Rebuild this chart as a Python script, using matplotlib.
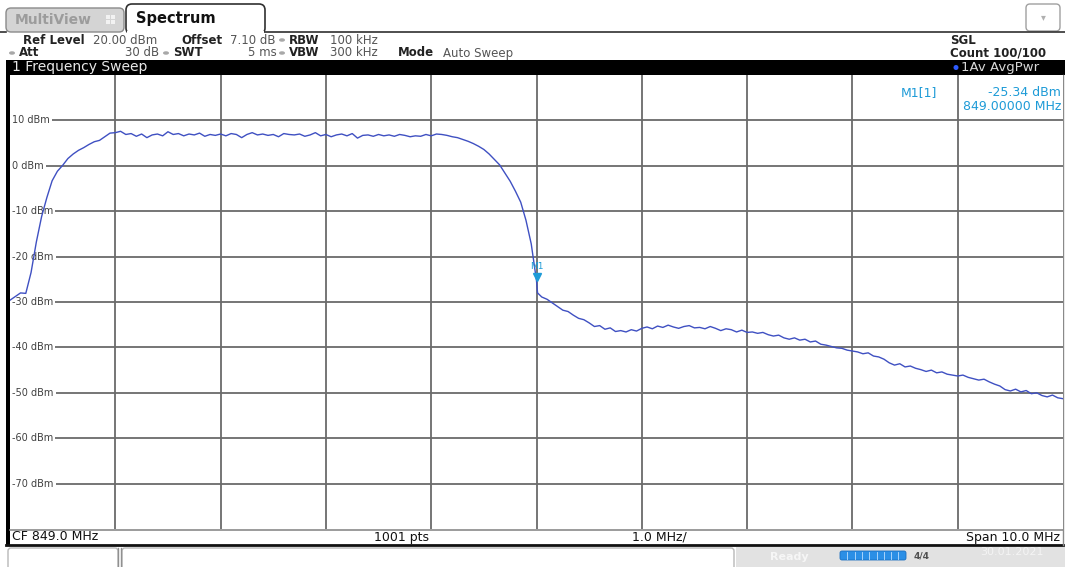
import matplotlib
matplotlib.use("Agg")
import matplotlib.pyplot as plt
import matplotlib.patches as patches
import numpy as np

plt.rcParams['font.family'] = ['DejaVu Sans']

# sweep data (dBm every 0.05 MHz, 844..854 MHz)
start_mhz = 844.0
stop_mhz = 854.0
level_dbm = [
    -29.6, -28.8, -28.0, -28.1, -23.5, -16.8, -11.2, -7.0, -3.3, -1.2,
    0.1, 1.6, 2.6, 3.4, 4.0, 4.7, 5.3, 5.6, 6.4, 7.2, 7.3,
    7.6, 6.9, 7.1, 6.5, 7.0, 6.2, 6.8, 7.0, 6.6, 7.5,
    6.9, 7.1, 6.6, 7.0, 6.8, 7.2, 6.5, 6.9, 6.7, 7.0,
    6.6, 7.1, 6.9, 6.2, 6.9, 7.3, 6.8, 7.0, 6.7, 6.9,
    6.4, 7.1, 6.9, 6.8, 7.0, 6.5, 6.8, 7.3, 6.6, 6.9,
    6.4, 6.8, 7.0, 6.6, 7.1, 6.1, 6.7, 6.8, 6.5, 6.9,
    6.6, 6.8, 6.5, 6.9, 6.7, 6.4, 6.6, 6.5, 6.9, 6.6,
    7.0, 6.9, 6.7, 6.4, 6.2, 5.8, 5.4, 4.9, 4.3, 3.6,
    2.6, 1.4, 0.2, -1.6, -3.4, -5.6, -8.0, -12.0, -17.2, -25.3,
    -28.9, -29.4, -30.2, -31.0, -31.8, -32.1, -32.9, -33.6, -33.9, -34.6,
    -35.4, -35.2, -36.0, -35.7, -36.5, -36.3, -36.6, -36.1, -36.4, -35.8,
    -35.5, -35.9, -35.3, -35.6, -35.1, -35.5, -35.8, -35.4, -35.2, -35.7,
    -35.6, -35.9, -35.4, -35.8, -36.3, -35.9, -36.1, -36.6, -36.2, -36.7,
    -36.6, -36.9, -36.7, -37.2, -37.5, -37.3, -37.9, -38.2, -37.9, -38.4,
    -38.2, -38.8, -38.6, -39.3, -39.5, -39.8, -40.1, -40.2, -40.6, -40.8,
    -41.0, -41.4, -41.2, -41.9, -42.1, -42.6, -43.4, -43.9, -43.6, -44.3,
    -44.1, -44.6, -44.9, -45.3, -45.0, -45.6, -45.4, -45.9, -46.1, -46.3,
    -46.1, -46.6, -46.9, -47.2, -47.0, -47.6, -48.1, -48.5, -49.3, -49.6,
    -49.2, -49.8, -49.5, -50.2, -50.0, -50.6, -50.9, -50.5, -51.1, -51.3,
]
# extra sweep point right after the marker (vertical step on screen)
step_mhz = 849.01
step_dbm = -28.0

marker_mhz = 849.0
marker_dbm = -25.34

ref_level = 20
y_lines = [10, 0, -10, -20, -30, -40, -50, -60, -70]
y_labels = ["10 dBm", "0 dBm", "-10 dBm", "-20 dBm", "-30 dBm",
            "-40 dBm", "-50 dBm", "-60 dBm", "-70 dBm"]

W, H = 1065, 567
fig = plt.figure(figsize=(W / 100, H / 100), dpi=100)
fig.patch.set_facecolor('white')

# background axes in pixel coordinates for the instrument frame
bg = fig.add_axes([0, 0, 1, 1])
bg.set_xlim(0, W)
bg.set_ylim(H, 0)
bg.axis('off')

# tabs
bg.add_patch(patches.FancyBboxPatch((6, 8), 118, 24, boxstyle="round,pad=0,rounding_size=5",
                                    fc='#D4D4D4', ec='#8A8A8A', lw=1))
bg.text(15, 20, "MultiView", fontsize=10, fontweight='bold', color='#9C9C9C', va='center')
for dx in (0, 5):
    for dy in (0, 5):
        bg.add_patch(patches.Rectangle((106 + dx, 15 + dy), 3.5, 3.5, fc='#F2F2F2', ec='none'))
bg.add_patch(patches.FancyBboxPatch((126, 4), 139, 30, boxstyle="round,pad=0,rounding_size=6",
                                    fc='white', ec='#303030', lw=1.2))
bg.plot([0, 6], [32, 32], color='#303030', lw=1.2)
bg.plot([265, W], [32, 32], color='#303030', lw=1.2)
bg.add_patch(patches.Rectangle((127, 31), 137, 4, fc='white', ec='none'))
bg.text(136, 18, "Spectrum", fontsize=10.5, fontweight='bold', color='#111111', va='center')
bg.add_patch(patches.FancyBboxPatch((1026, 4), 34, 27, boxstyle="round,pad=0,rounding_size=4",
                                    fc='white', ec='#A0A0A0', lw=1))
bg.text(1043, 17, "\u25BE", fontsize=7, color='#B0B0B0', ha='center', va='center')

# settings header
hc = '#555555'
fs = 8.5
row1, row2 = 40, 53
bg.text(23, row1, "Ref Level", fontsize=fs, fontweight='bold', color='#222222', va='center')
bg.text(93, row1, "20.00 dBm", fontsize=fs, color=hc, va='center')
bg.text(181, row1, "Offset", fontsize=fs, fontweight='bold', color='#222222', va='center')
bg.text(230, row1, "7.10 dB", fontsize=fs, color=hc, va='center')
bg.text(289, row1, "RBW", fontsize=fs, fontweight='bold', color='#222222', va='center')
bg.text(330, row1, "100 kHz", fontsize=fs, color=hc, va='center')
bg.text(19, row2, "Att", fontsize=fs, fontweight='bold', color='#222222', va='center')
bg.text(159, row2, "30 dB", fontsize=fs, color=hc, va='center', ha='right')
bg.text(173, row2, "SWT", fontsize=fs, fontweight='bold', color='#222222', va='center')
bg.text(277, row2, "5 ms", fontsize=fs, color=hc, va='center', ha='right')
bg.text(289, row2, "VBW", fontsize=fs, fontweight='bold', color='#222222', va='center')
bg.text(330, row2, "300 kHz", fontsize=fs, color=hc, va='center')
bg.text(398, row2, "Mode", fontsize=fs, fontweight='bold', color='#222222', va='center')
bg.text(443, row2, "Auto Sweep", fontsize=fs, color=hc, va='center')
for (dx, dy) in [(282, row1), (12, row2), (166, row2), (282, row2)]:
    bg.add_patch(patches.Ellipse((dx, dy), 6, 3.5, fc='#A8A8A8', ec='none'))
bg.text(950, row1, "SGL", fontsize=fs, fontweight='bold', color='#222222', va='center')
bg.text(950, row2, "Count 100/100", fontsize=fs, fontweight='bold', color='#222222', va='center')

# black title bar
bg.add_patch(patches.Rectangle((7, 60), W - 7, 15, fc='black', ec='none'))
bg.text(12, 67.5, "1 Frequency Sweep", fontsize=10, color='#E8E8E8', va='center')
bg.add_patch(patches.Circle((956, 67.5), 2.5, fc='#2E5BFF', ec='none'))
bg.text(961, 67.5, "1Av AvgPwr", fontsize=9.5, color='#D8D8D8', va='center')

# left frame and bottom info bar
bg.add_patch(patches.Rectangle((6, 60), 4, 486, fc='black', ec='none'))
bg.plot([10, 1063], [529.5, 529.5], color='#8A8A8A', lw=1.2)
bg.plot([6, 1063], [545, 545], color='#111111', lw=2)
bg.plot([1063, 1063], [75, 545], color='#8A8A8A', lw=1)
bg.text(12, 537, "CF 849.0 MHz", fontsize=9, color='#111111', va='center')
bg.text(374, 537, "1001 pts", fontsize=9, color='#111111', va='center')
bg.text(632, 537, "1.0 MHz/", fontsize=9, color='#111111', va='center')
bg.text(1060, 537, "Span 10.0 MHz", fontsize=9, color='#111111', va='center', ha='right')

# status bar
bg.add_patch(patches.FancyBboxPatch((8, 548), 110, 22, boxstyle="round,pad=0,rounding_size=3",
                                    fc='white', ec='#B8B8B8', lw=1))
bg.add_patch(patches.FancyBboxPatch((122, 548), 612, 22, boxstyle="round,pad=0,rounding_size=3",
                                    fc='white', ec='#B8B8B8', lw=1))
bg.plot([118, 118], [548, 567], color='#909090', lw=1)
bg.plot([121, 121], [548, 567], color='#909090', lw=1)
bg.add_patch(patches.Rectangle((736, 547), W - 736, 20, fc='#E2E2E2', ec='none'))
bg.text(770, 557, "Ready", fontsize=8, color='#F6F6F6', va='center', fontweight='bold')
bg.add_patch(patches.FancyBboxPatch((840, 551), 66, 9, boxstyle="round,pad=0,rounding_size=2",
                                    fc='#2B8FE6', ec='#1A6FC0', lw=0.6))
for i in range(1, 9):
    bg.plot([840 + i * 7.3, 840 + i * 7.3], [552, 559], color='#BFE0FF', lw=0.6)
bg.text(914, 556, "4/4", fontsize=6.5, fontweight='bold', color='#505050', va='center')
bg.text(980, 552, "30.01.2021", fontsize=8, color='#F4F4F4', va='center')

# measurement diagram
ax = fig.add_axes([10 / W, (H - 529) / H, 1053 / W, 454 / H])
ax.set_facecolor('white')
ax.set_xlim(start_mhz, stop_mhz)
ax.set_ylim(ref_level - 100, ref_level)
ax.set_xticks([])
ax.set_yticks([])
for s in ax.spines.values():
    s.set_visible(False)

grid_c = '#6A6A6A'
for f in np.arange(start_mhz + 1, stop_mhz, 1.0):
    ax.axvline(f, color=grid_c, lw=1.3, zorder=1)
for yv, lab in zip(y_lines, y_labels):
    ax.axhline(yv, color=grid_c, lw=1.3, zorder=1)
    ax.text(0.002, yv, lab, transform=ax.get_yaxis_transform(), fontsize=7, color='#404040',
            va='center', ha='left', zorder=2,
            bbox=dict(fc='white', ec='none', pad=1.5))

freq = np.linspace(start_mhz, stop_mhz, len(level_dbm))
level = np.array(level_dbm)
k = np.searchsorted(freq, step_mhz)
freq = np.insert(freq, k, step_mhz)
level = np.insert(level, k, step_dbm)
ax.plot(freq, level, color='#3F50C2', lw=1.0, zorder=4)

# marker M1
mk_c = '#1E9BD7'
ax.plot(marker_mhz, marker_dbm + 0.9, marker='v', color=mk_c, ms=5.5, zorder=5)
ax.text(marker_mhz, marker_dbm + 2.2, "M1", fontsize=6.5, color=mk_c, ha='center', va='bottom', zorder=5)
ax.text(0.846, 0.975, "M1[1]", transform=ax.transAxes, fontsize=9, color=mk_c, va='top', ha='left',
        zorder=6, bbox=dict(fc='white', ec='none', pad=0.5))
ax.text(0.998, 0.975, "%.2f dBm" % marker_dbm, transform=ax.transAxes, fontsize=9, color=mk_c,
        va='top', ha='right', zorder=6, bbox=dict(fc='white', ec='none', pad=0.5))
ax.text(0.998, 0.945, "%.5f MHz" % marker_mhz, transform=ax.transAxes, fontsize=9, color=mk_c,
        va='top', ha='right', zorder=6, bbox=dict(fc='white', ec='none', pad=0.5))

fig.savefig("out.png", dpi=100)
